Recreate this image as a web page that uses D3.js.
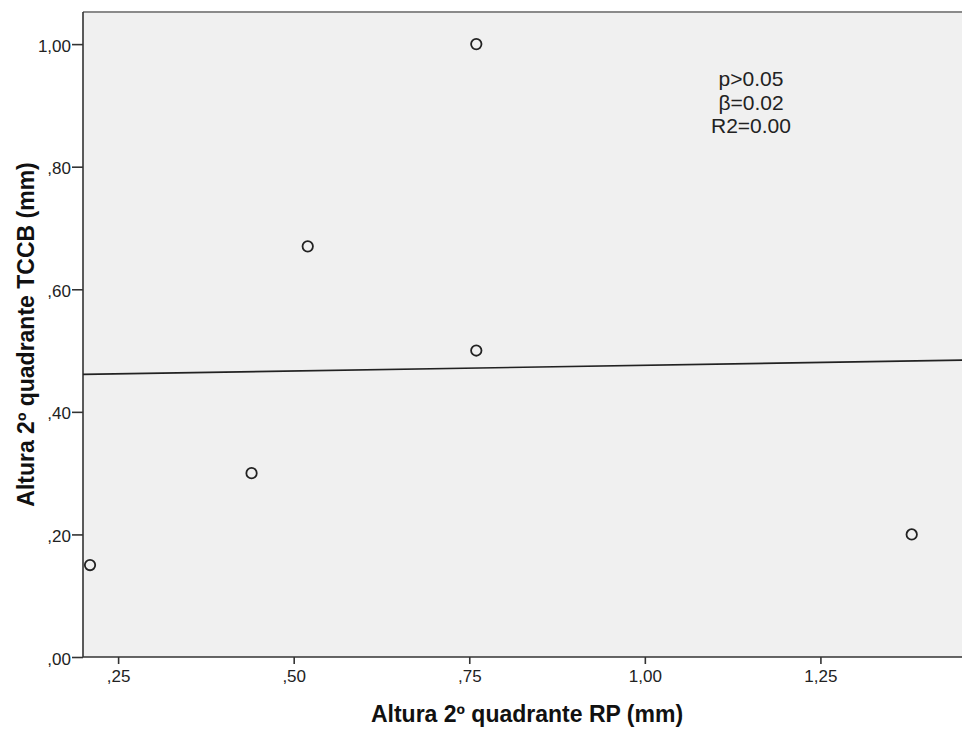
<!DOCTYPE html>
<html>
<head>
<meta charset="utf-8">
<script src="https://cdn.jsdelivr.net/npm/d3@7"></script>
<style>
  body { margin: 0; background: #fff; }
  svg { display: block; font-family: "Liberation Sans", Arial, sans-serif; }
</style>
</head>
<body>
<svg id="chart" width="962" height="729"></svg>
<script>
// data
const rpValues = [0.76, 0.52, 0.76, 0.44, 0.21, 1.38]
const tccbValues = [1.00, 0.67, 0.50, 0.30, 0.15, 0.20]
const xTicks = [0.25, 0.50, 0.75, 1.00, 1.25]
const yTicks = [0.00, 0.20, 0.40, 0.60, 0.80, 1.00]
const statLines = ["p>0.05", "β=0.02", "R2=0.00"]

const svg = d3.select("#chart")
const plotLeft = 83, plotRight = 962, plotTop = 12, plotBottom = 657

const x = d3.scaleLinear().domain([0.2, 1.4516]).range([plotLeft, plotRight])
const y = d3.scaleLinear().domain([0, 1.0524]).range([plotBottom, plotTop])

const fmt = v => d3.format(".2f")(v).replace(".", ",").replace(/^0,/, ",")

// plot background
svg.append("rect")
  .attr("x", plotLeft).attr("y", plotTop)
  .attr("width", plotRight - plotLeft).attr("height", plotBottom - plotTop)
  .attr("fill", "#f0f0f0")
svg.append("line")
  .attr("x1", plotLeft).attr("x2", plotRight).attr("y1", plotTop).attr("y2", plotTop)
  .attr("stroke", "#8a8a8a").attr("stroke-width", 2)

// axes
const xAxis = svg.append("g")
  .attr("transform", `translate(0,${plotBottom})`)
  .call(d3.axisBottom(x).tickValues(xTicks).tickFormat(fmt).tickSize(7).tickPadding(6))
const yAxis = svg.append("g")
  .attr("transform", `translate(${plotLeft},0)`)
  .call(d3.axisLeft(y).tickValues(yTicks).tickFormat(fmt).tickSize(11).tickPadding(1))

for (const g of [xAxis, yAxis]) {
  g.select(".domain").attr("stroke", "#333").attr("stroke-width", 1.6)
  g.selectAll(".tick line").attr("stroke", "#333").attr("stroke-width", 1.6)
  g.selectAll(".tick text")
    .attr("font-size", 17).attr("fill", "#222")
    .attr("font-family", "Liberation Sans, Arial, sans-serif")
}
yAxis.selectAll(".tick text").attr("dy", "0.42em")
yAxis.select(".domain").attr("d", `M0,${plotBottom}V${plotTop}`)
xAxis.select(".domain").attr("d", `M${plotLeft},0H${plotRight}`)

// regression line fitted from the points
const mx = d3.mean(rpValues), my = d3.mean(tccbValues)
const sxy = d3.sum(rpValues, (v, i) => (v - mx) * (tccbValues[i] - my))
const sxx = d3.sum(rpValues, v => (v - mx) ** 2)
const slope = sxy / sxx, icpt = my - slope * mx
const [x0, x1] = x.domain()
svg.append("path")
  .attr("d", d3.line()([[x(x0), y(icpt + slope * x0)], [x(x1), y(icpt + slope * x1)]]))
  .attr("stroke", "#222").attr("stroke-width", 1.6).attr("fill", "none")

// points
svg.append("g").selectAll("circle")
  .data(rpValues).enter()
  .append("circle")
  .attr("cx", d => x(d))
  .attr("cy", (d, i) => y(tccbValues[i]))
  .attr("r", 5.2)
  .attr("fill", "none").attr("stroke", "#222").attr("stroke-width", 1.8)

// stats annotation
svg.append("g").selectAll("text")
  .data(statLines).enter()
  .append("text")
  .attr("x", 751)
  .attr("y", (d, i) => 86 + i * 23.5)
  .attr("text-anchor", "middle")
  .attr("font-size", 21).attr("fill", "#222")
  .text(d => d)

// axis titles
svg.append("text")
  .attr("x", 527).attr("y", 722)
  .attr("text-anchor", "middle")
  .attr("font-size", 23).attr("font-weight", "bold").attr("fill", "#111")
  .text("Altura 2º quadrante RP (mm)")
svg.append("text")
  .attr("transform", `translate(33.5,${(plotTop + plotBottom) / 2}) rotate(-90)`)
  .attr("text-anchor", "middle")
  .attr("font-size", 23).attr("font-weight", "bold").attr("fill", "#111")
  .text("Altura 2º quadrante TCCB (mm)")
</script>
</body>
</html>
